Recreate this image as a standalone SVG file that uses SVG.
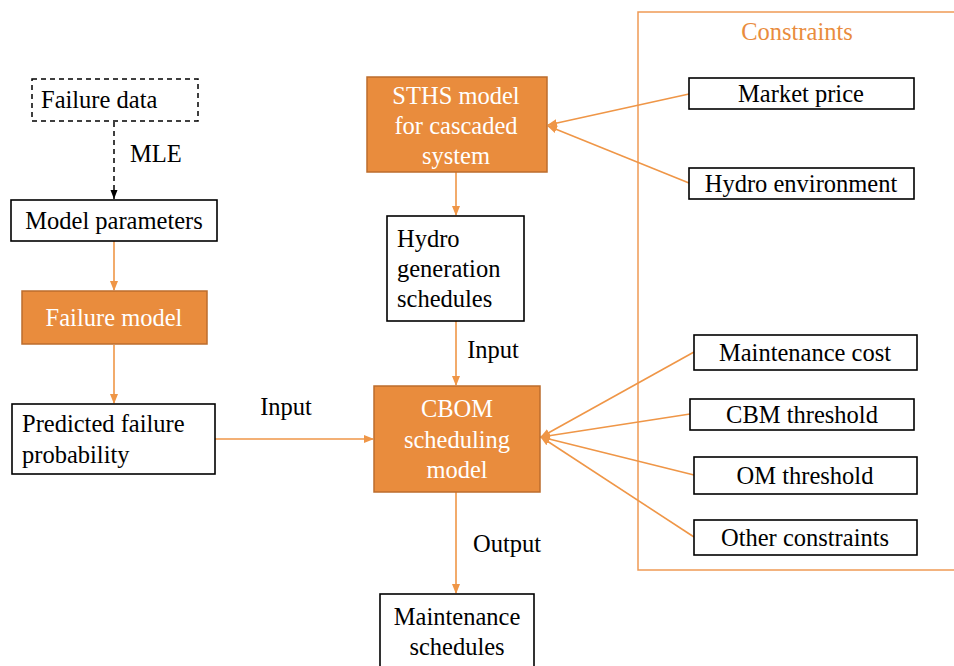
<svg xmlns="http://www.w3.org/2000/svg" width="954" height="666" viewBox="0 0 954 666">
<defs>
<style>
text{font-size:24.5px;fill:#000}
.w{fill:#fff}
.c{text-anchor:middle}
.box{fill:#fff;stroke:#000;stroke-width:1.6}
.obox{fill:#E98C3D;stroke:#BC6C2C;stroke-width:1.5}
.ln{stroke:#EF9647;stroke-width:1.6;fill:none}
.dl{stroke:#000;stroke-width:1.5;stroke-dasharray:5,4;fill:none}
</style>
<marker id="ao" markerWidth="10" markerHeight="10" refX="9" refY="5" orient="auto" markerUnits="userSpaceOnUse"><path d="M0,1 L10,5 L0,9 Z" fill="#EF9647"/></marker>
<marker id="ak" markerWidth="10" markerHeight="10" refX="9" refY="5" orient="auto" markerUnits="userSpaceOnUse"><path d="M0,1.5 L9,5 L0,8.5 Z" fill="#000"/></marker>
</defs>
<g font-family="Liberation Serif, Tinos, Times New Roman, Times, Nimbus Roman, FreeSerif, Noto Serif, DejaVu Serif, serif">
<g id="constraints-frame">
<path d="M954,12 L638,12 L638,570 L954,570" fill="none" stroke="#EF9A55" stroke-width="1.5"/>
<text x="797" y="40" class="c" style="fill:#E98C3D">Constraints</text>
</g>
<g id="connectors">
<path class="dl" d="M114,122 L114,199" marker-end="url(#ak)"/>
<path class="ln" d="M114,241 L114,290" marker-end="url(#ao)"/>
<path class="ln" d="M114,345 L114,403" marker-end="url(#ao)"/>
<path class="ln" d="M215,439 L373,439" marker-end="url(#ao)"/>
<path class="ln" d="M456,172 L456,215" marker-end="url(#ao)"/>
<path class="ln" d="M456,321 L456,385" marker-end="url(#ao)"/>
<path class="ln" d="M456,492 L456,593" marker-end="url(#ao)"/>
<path class="ln" d="M689,94 L548,125" marker-end="url(#ao)"/>
<path class="ln" d="M689,183 L548,126" marker-end="url(#ao)"/>
<path class="ln" d="M694,352 L541,437" marker-end="url(#ao)"/>
<path class="ln" d="M690,414 L541,437" marker-end="url(#ao)"/>
<path class="ln" d="M694,475 L541,437" marker-end="url(#ao)"/>
<path class="ln" d="M694,537 L541,437" marker-end="url(#ao)"/>
<text x="130" y="162">MLE</text>
<text x="286" y="415" class="c">Input</text>
<text x="493" y="358" class="c">Input</text>
<text x="507" y="552" class="c">Output</text>
</g>
<g id="failure-data">
<rect x="32" y="79" width="166" height="42" fill="#fff" stroke="#000" stroke-width="1.5" stroke-dasharray="5,4"/>
<text x="41" y="108">Failure data</text>
</g>
<g id="model-parameters">
<rect class="box" x="11" y="200" width="206" height="41"/>
<text x="114" y="229" class="c">Model parameters</text>
</g>
<g id="failure-model">
<rect class="obox" x="22" y="291" width="185" height="53"/>
<text x="114" y="326" class="c w">Failure model</text>
</g>
<g id="predicted-failure-probability">
<rect class="box" x="12" y="404" width="203" height="70"/>
<text x="22" y="432">Predicted failure</text>
<text x="22" y="463">probability</text>
</g>
<g id="sths-model">
<rect class="obox" x="367" y="77" width="180" height="95"/>
<text x="456" y="104" class="c w">STHS model</text>
<text x="456" y="134" class="c w">for cascaded</text>
<text x="456" y="164" class="c w">system</text>
</g>
<g id="hydro-generation-schedules">
<rect class="box" x="387" y="216" width="137" height="105"/>
<text x="397" y="247">Hydro</text>
<text x="397" y="277">generation</text>
<text x="397" y="307">schedules</text>
</g>
<g id="cbom-scheduling-model">
<rect class="obox" x="374" y="386" width="166" height="106"/>
<text x="457" y="417" class="c w">CBOM</text>
<text x="457" y="448" class="c w">scheduling</text>
<text x="457" y="478" class="c w">model</text>
</g>
<g id="maintenance-schedules">
<rect class="box" x="380" y="594" width="154" height="80"/>
<text x="457" y="625" class="c">Maintenance</text>
<text x="457" y="655" class="c">schedules</text>
</g>
<g id="market-price">
<rect class="box" x="689" y="78" width="225" height="31"/>
<text x="801" y="102" class="c">Market price</text>
</g>
<g id="hydro-environment">
<rect class="box" x="689" y="168" width="225" height="31"/>
<text x="801" y="192" class="c">Hydro environment</text>
</g>
<g id="maintenance-cost">
<rect class="box" x="694" y="335" width="223" height="35"/>
<text x="805" y="361" class="c">Maintenance cost</text>
</g>
<g id="cbm-threshold">
<rect class="box" x="690" y="399" width="224" height="31"/>
<text x="802" y="423" class="c">CBM threshold</text>
</g>
<g id="om-threshold">
<rect class="box" x="694" y="457" width="223" height="37"/>
<text x="805" y="484" class="c">OM threshold</text>
</g>
<g id="other-constraints">
<rect class="box" x="694" y="520" width="223" height="35"/>
<text x="805" y="546" class="c">Other constraints</text>
</g>
</g>
</svg>
